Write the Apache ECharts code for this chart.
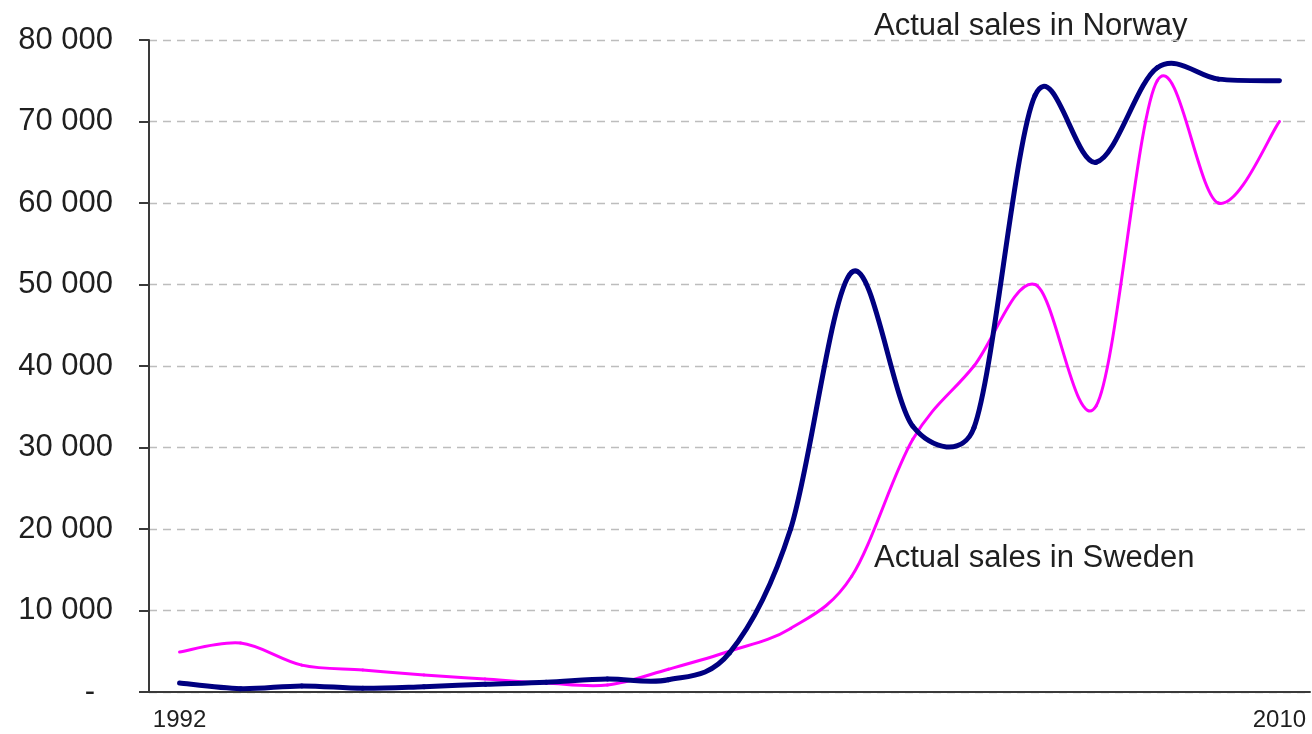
<!DOCTYPE html>
<html>
<head>
<meta charset="utf-8">
<script src="https://cdn.jsdelivr.net/npm/echarts@6/dist/echarts.min.js"></script>
<style>
  html, body { margin: 0; padding: 0; background: #ffffff; }
  #chart { width: 1312px; height: 734px; }
</style>
</head>
<body>
<div id="chart"></div>
<script>
// Yearly car sales, 1992-2010
const years = ['1992','1993','1994','1995','1996','1997','1998','1999','2000','2001',
               '2002','2003','2004','2005','2006','2007','2008','2009','2010'];
const norwaySales = [1100, 400, 750, 450, 650, 950, 1200, 1600, 1500, 4800,
                     20000, 51500, 32600, 32400, 73200, 65000, 76600, 75200, 75000];
const swedenSales = [4900, 6000, 3300, 2700, 2100, 1600, 1100, 850, 2800, 5000,
                     7800, 14200, 31000, 40000, 50000, 35100, 75000, 60000, 70000];
const seriesNames = ['Actual sales in Norway', 'Actual sales in Sweden'];

const FONT = '"Liberation Sans", Arial, sans-serif';
const TEXT = '#1f1f1f';
const TENSION = 1 / 6;

function fmtThousands(v) {
  return String(v).replace(/\B(?=(\d{3})+(?!\d))/g, ' ');
}

// Smoothed line made of cubic bezier segments. Each data item draws the
// segment from itself to the next point. Control points follow the
// neighbours' direction (tension 1/6), capped at half the segment length.
function smoothSegment(color, width) {
  return function (params, api) {
    const n = params.dataInsideLength;
    const i = params.dataIndexInside;
    if (i >= n - 1) return null;
    const pt = (k) => api.coord([api.value(0, k), api.value(1, k)]);
    const dist = (a, b) => Math.hypot(b[0] - a[0], b[1] - a[1]);
    const p0 = pt(Math.max(i - 1, 0));
    const p1 = pt(i);
    const p2 = pt(i + 1);
    const p3 = pt(Math.min(i + 2, n - 1));
    const d12 = dist(p1, p2), d02 = dist(p0, p2), d13 = dist(p1, p3);
    const f1 = d02 > 0 ? Math.min(TENSION, d12 / (2 * d02)) : 0;
    const f2 = d13 > 0 ? Math.min(TENSION, d12 / (2 * d13)) : 0;
    return {
      type: 'bezierCurve',
      shape: {
        x1: p1[0], y1: p1[1],
        x2: p2[0], y2: p2[1],
        cpx1: p1[0] + (p2[0] - p0[0]) * f1,
        cpy1: p1[1] + (p2[1] - p0[1]) * f1,
        cpx2: p2[0] - (p3[0] - p1[0]) * f2,
        cpy2: p2[1] - (p3[1] - p1[1]) * f2
      },
      style: { stroke: color, lineWidth: width, fill: null, lineCap: 'round', lineJoin: 'round' }
    };
  };
}

const chart = echarts.init(document.getElementById('chart'), null, { renderer: 'canvas' });

chart.setOption({
  animation: false,
  backgroundColor: '#ffffff',
  grid: { left: 149, right: 2, top: 40, bottom: 42, containLabel: false },
  xAxis: {
    type: 'category',
    data: years,
    boundaryGap: true,
    axisLine: { show: true, lineStyle: { color: '#3a3a3a', width: 2 } },
    axisTick: { show: false },
    axisLabel: {
      interval: (i) => i === 0 || i === years.length - 1,
      margin: 16,
      color: TEXT,
      fontFamily: FONT,
      fontSize: 24
    },
    splitLine: { show: false }
  },
  yAxis: {
    type: 'value',
    min: 0,
    max: 80000,
    interval: 10000,
    axisLine: { show: true, lineStyle: { color: '#3a3a3a', width: 2 } },
    axisTick: { show: true, inside: false, length: 10, lineStyle: { color: '#3a3a3a', width: 2 } },
    axisLabel: {
      margin: 36,
      color: TEXT,
      fontFamily: FONT,
      fontSize: 31,
      formatter: (v) => v === 0 ? '{z|-}' : fmtThousands(v),
      rich: {
        z: { color: TEXT, fontFamily: FONT, fontSize: 31, padding: [0, 18, 0, 0] }
      }
    },
    splitLine: { show: true, lineStyle: { color: '#bdbdbd', width: 1.3, type: [8, 6] } }
  },
  series: [
    {
      name: seriesNames[1],
      type: 'custom',
      data: swedenSales.map((v, i) => [i, v]),
      encode: { x: 0, y: 1 },
      renderItem: smoothSegment('#ff00ff', 3),
      clip: false,
      z: 2
    },
    {
      name: seriesNames[0],
      type: 'custom',
      data: norwaySales.map((v, i) => [i, v]),
      encode: { x: 0, y: 1 },
      renderItem: smoothSegment('#000080', 5),
      clip: false,
      z: 3
    }
  ],
  graphic: [
    {
      type: 'text',
      left: 874,
      top: 11,
      style: { text: seriesNames[0], fill: TEXT, font: '31px ' + FONT }
    },
    {
      type: 'text',
      left: 874,
      top: 543,
      style: { text: seriesNames[1], fill: TEXT, font: '31px ' + FONT }
    }
  ]
});
</script>
</body>
</html>
